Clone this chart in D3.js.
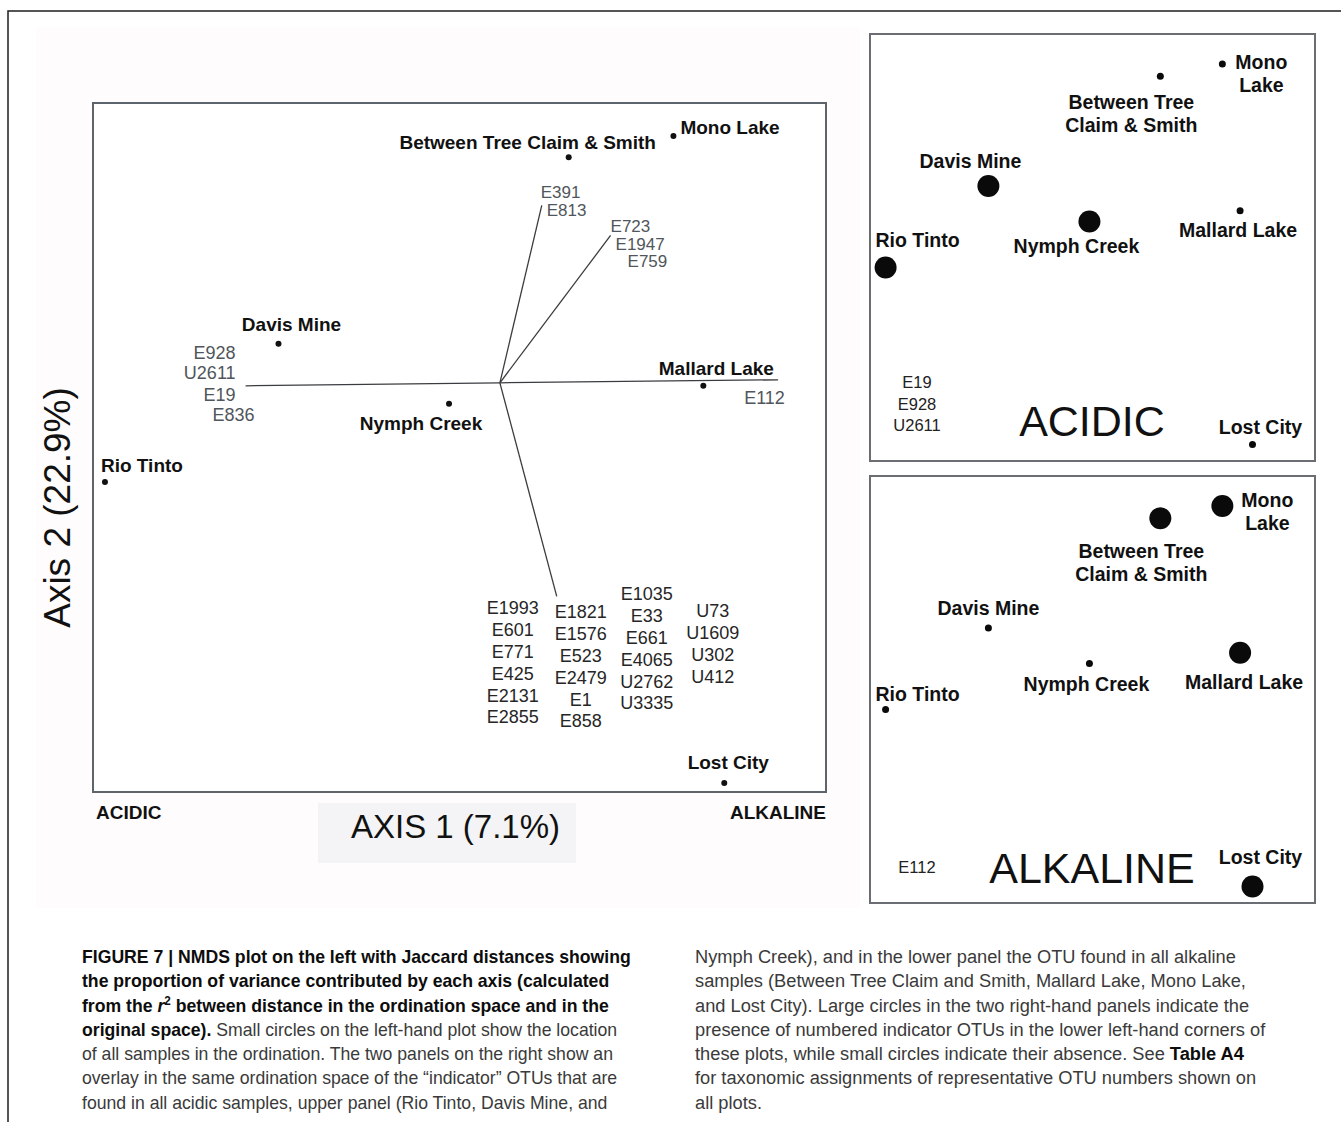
<!DOCTYPE html>
<html>
<head>
<meta charset="utf-8">
<script src="https://cdn.jsdelivr.net/npm/d3@7"></script>
<style>
  html, body { margin: 0; padding: 0; background: #fff; }
  svg { display: block; font-family: "Liberation Sans", Arial, Helvetica, sans-serif; }
</style>
</head>
<body>
<svg id="fig" width="1341" height="1122"></svg>
<script>
// ---- NMDS site scores (Jaccard) ----
const sites = ["Rio Tinto", "Davis Mine", "Nymph Creek", "Between Tree Claim & Smith",
               "Mono Lake", "Mallard Lake", "Lost City"];
const siteAxis1 = [-1.32, -0.74, -0.17, 0.23, 0.58, 0.68, 0.75];
const siteAxis2 = [-0.33, 0.13, -0.07, 0.75, 0.82, -0.01, -1.33];

// presence (1) / absence (0) of the indicator OTUs at each site
const acidicPresence   = [1, 1, 1, 0, 0, 0, 0];
const alkalinePresence = [0, 0, 0, 1, 1, 1, 1];
const acidicIndicators   = ["E19", "E928", "U2611"];
const alkalineIndicators = ["E112"];

// ---- fitted OTU vectors ----
const vectorAxis1 = [0.14, 0.37, -0.85, 0.93, 0.19];
const vectorAxis2 = [0.59, 0.49, -0.01, 0.01, -0.71];
const vectorOTUs = [
  ["E391", "E813"],
  ["E723", "E1947", "E759"],
  ["E928", "U2611", "E19", "E836"],
  ["E112"],
  [["E1993", "E601", "E771", "E425", "E2131", "E2855"],
   ["E1821", "E1576", "E523", "E2479", "E1", "E858"],
   ["E1035", "E33", "E661", "E4065", "U2762", "U3335"],
   ["U73", "U1609", "U302", "U412"]]
];

const axisTitles = ["AXIS 1 (7.1%)", "Axis 2 (22.9%)"];
const gradientLabels = ["ACIDIC", "ALKALINE"];

const captionLeft = [
  [["b", "FIGURE 7 | NMDS plot on the left with Jaccard distances showing"]],
  [["b", "the proportion of variance contributed by each axis (calculated"]],
  [["b", "from the "], ["bi", "r"], ["bsup", "2"], ["bdown", " between distance in the ordination space and in the"]],
  [["b", "original space)."], ["n", " Small circles on the left-hand plot show the location"]],
  [["n", "of all samples in the ordination. The two panels on the right show an"]],
  [["n", "overlay in the same ordination space of the \u201cindicator\u201d OTUs that are"]],
  [["n", "found in all acidic samples, upper panel (Rio Tinto, Davis Mine, and"]]
];
const captionRight = [
  [["n", "Nymph Creek), and in the lower panel the OTU found in all alkaline"]],
  [["n", "samples (Between Tree Claim and Smith, Mallard Lake, Mono Lake,"]],
  [["n", "and Lost City). Large circles in the two right-hand panels indicate the"]],
  [["n", "presence of numbered indicator OTUs in the lower left-hand corners of"]],
  [["n", "these plots, while small circles indicate their absence. See "], ["b", "Table A4"]],
  [["n", "for taxonomic assignments of representative OTU numbers shown on"]],
  [["n", "all plots."]]
];

const svg = d3.select("#fig");
const siteData = sites.map((s, i) => ({ name: s, a1: siteAxis1[i], a2: siteAxis2[i], i }));

svg.append("rect").attr("width", 1341).attr("height", 1122).attr("fill", "#fff");
svg.append("rect").attr("x", 36).attr("y", 27).attr("width", 824).attr("height", 881).attr("fill", "#fefcfc");

// outer figure rule
svg.append("path").attr("d", "M8,1122V11H1341").attr("fill", "none")
  .attr("stroke", "#1e1e1e").attr("stroke-width", 1.5);

// ================= main ordination =================
const x = d3.scaleLinear().domain([-1.36, 1.09]).range([93, 826]);
const y = d3.scaleLinear().domain([-1.36, 0.93]).range([792, 103]);

const main = svg.append("g");
main.append("rect").attr("x", x.range()[0]).attr("y", y.range()[1])
  .attr("width", x.range()[1] - x.range()[0]).attr("height", y.range()[0] - y.range()[1])
  .attr("fill", "#fff").attr("stroke", "#5d646b").attr("stroke-width", 2);

// vectors from the origin
main.append("g").selectAll("line").data(vectorAxis1).join("line")
  .attr("x1", x(0)).attr("y1", y(0))
  .attr("x2", (d, i) => x(d)).attr("y2", (d, i) => y(vectorAxis2[i]))
  .attr("stroke", "#3a3d40").attr("stroke-width", 1.3);

const gray = "#50565b";
function otuText(g, txt, px, py, anchor, color, size) {
  g.append("text").attr("x", px).attr("y", py).attr("text-anchor", anchor)
    .attr("font-size", size || 18).attr("fill", color).text(txt);
}
const vl = main.append("g");
// E391 / E813
{
  const ex = x(vectorAxis1[0]), ey = y(vectorAxis2[0]);
  otuText(vl, vectorOTUs[0][0], ex - 1, ey - 7, "start", gray, 17);
  otuText(vl, vectorOTUs[0][1], ex + 5, ey + 11, "start", gray, 17);
}
// E723 / E1947 / E759
{
  const ex = x(vectorAxis1[1]), ey = y(vectorAxis2[1]);
  const dx = [0, 5, 17];
  vectorOTUs[1].forEach((t, k) => otuText(vl, t, ex + dx[k], ey - 3 + k * 17.5, "start", gray, 17));
}
// acidic indicators, left
{
  const ex = x(vectorAxis1[2]), ey = y(vectorAxis2[2]);
  const dx = [-10, -10, -10, 9];
  const dy = [-27, -7, 15, 35];
  vectorOTUs[2].forEach((t, k) => otuText(vl, t, ex + dx[k], ey + dy[k], "end", gray));
}
// E112
{
  const ex = x(vectorAxis1[3]), ey = y(vectorAxis2[3]);
  otuText(vl, vectorOTUs[3][0], ex - 34, ey + 24, "start", gray);
}
// cluster at the end of the downward vector
{
  const ex = x(vectorAxis1[4]), ey = y(vectorAxis2[4]);
  const colDx = [-44, 24, 90, 156];
  const colDy = [18, 22, 4, 21];
  vectorOTUs[4].forEach((col, c) => {
    col.forEach((t, k) => otuText(vl, t, ex + colDx[c], ey + colDy[c] + k * 21.8, "middle", "#262626"));
  });
}

// sample points
const mainLabel = {
  "Rio Tinto": [-4, -10, "start"],
  "Davis Mine": [13, -13, "middle"],
  "Nymph Creek": [-28, 26, "middle"],
  "Between Tree Claim & Smith": [-41, -8, "middle"],
  "Mono Lake": [7, -2, "start"],
  "Mallard Lake": [13, -11, "middle"],
  "Lost City": [4, -14, "middle"]
};
main.append("g").selectAll("circle").data(siteData).join("circle")
  .attr("cx", d => x(d.a1)).attr("cy", d => y(d.a2)).attr("r", 3).attr("fill", "#111");
main.append("g").selectAll("text").data(siteData).join("text")
  .attr("x", d => x(d.a1) + mainLabel[d.name][0])
  .attr("y", d => y(d.a2) + mainLabel[d.name][1])
  .attr("text-anchor", d => mainLabel[d.name][2])
  .attr("font-size", 19).attr("font-weight", "bold").attr("fill", "#111")
  .text(d => d.name);

// axis titles and gradient labels
main.append("rect").attr("x", 318).attr("y", 803).attr("width", 258).attr("height", 60).attr("fill", "#f4f4f6");
main.append("text").attr("x", (x.range()[0] + x.range()[1]) / 2 - 4).attr("y", 838)
  .attr("text-anchor", "middle").attr("font-size", 33).attr("fill", "#111").text(axisTitles[0]);
main.append("text").attr("transform", `translate(70,${(y.range()[0] + y.range()[1]) / 2 + 60}) rotate(-90)`)
  .attr("text-anchor", "middle").attr("font-size", 37).attr("fill", "#111").text(axisTitles[1]);
main.append("text").attr("x", 96).attr("y", 819).attr("font-size", 19).attr("font-weight", "bold")
  .attr("fill", "#111").text(gradientLabels[0]);
main.append("text").attr("x", x.range()[1]).attr("y", 819).attr("text-anchor", "end")
  .attr("font-size", 19).attr("font-weight", "bold").attr("fill", "#111").text(gradientLabels[1]);

// ================= indicator overlay panels =================
const px = d3.scaleLinear().domain([-1.408, 1.097]);
const py = d3.scaleLinear().domain([-1.412, 0.989]);

function panel(top, presence, indicators, title, labels) {
  const xs = px.copy().range([870, 1314]);
  const ys = py.copy().range([top + 425, top]);
  const g = svg.append("g");
  g.append("rect").attr("x", 870).attr("y", top).attr("width", 445).attr("height", 427)
    .attr("fill", "#fff").attr("stroke", "#6a6e72").attr("stroke-width", 2);
  g.append("g").selectAll("circle").data(siteData).join("circle")
    .attr("cx", d => xs(d.a1)).attr("cy", d => ys(d.a2))
    .attr("r", d => presence[d.i] ? 11 : 3.5).attr("fill", "#0a0a0a");
  siteData.forEach(d => {
    const [dx, dy, lines] = labels[d.name];
    const t = g.append("text").attr("x", xs(d.a1) + dx).attr("y", ys(d.a2) + dy)
      .attr("text-anchor", "middle")
      .attr("font-size", 19.5).attr("font-weight", "bold").attr("fill", "#111");
    lines.forEach((ln, k) => t.append("tspan").attr("x", xs(d.a1) + dx).attr("dy", k ? 23 : 0).text(ln));
  });
  indicators.forEach((t, k) => {
    g.append("text").attr("x", 917).attr("y", top + (indicators.length > 1 ? 354 : 397) + k * 21.5)
      .attr("text-anchor", "middle").attr("font-size", 16.5).attr("fill", "#222").text(t);
  });
  g.append("text").attr("x", 1092).attr("y", top + (indicators.length > 1 ? 402 : 407))
    .attr("text-anchor", "middle").attr("font-size", 43).attr("fill", "#111").text(title);
}

panel(34, acidicPresence, acidicIndicators, "ACIDIC", {
  "Rio Tinto": [32, -20, ["Rio Tinto"]],
  "Davis Mine": [-18, -18, ["Davis Mine"]],
  "Nymph Creek": [-13, 32, ["Nymph Creek"]],
  "Between Tree Claim & Smith": [-29, 33, ["Between Tree", "Claim & Smith"]],
  "Mono Lake": [39, 5, ["Mono", "Lake"]],
  "Mallard Lake": [-2, 26, ["Mallard Lake"]],
  "Lost City": [8, -10, ["Lost City"]]
});
panel(476, alkalinePresence, alkalineIndicators, "ALKALINE", {
  "Rio Tinto": [32, -8, ["Rio Tinto"]],
  "Davis Mine": [0, -13, ["Davis Mine"]],
  "Nymph Creek": [-3, 28, ["Nymph Creek"]],
  "Between Tree Claim & Smith": [-19, 40, ["Between Tree", "Claim & Smith"]],
  "Mono Lake": [45, 1, ["Mono", "Lake"]],
  "Mallard Lake": [4, 36, ["Mallard Lake"]],
  "Lost City": [8, -22, ["Lost City"]]
});

// ================= caption =================
function captionColumn(lines) {
  const g = svg.append("g");
  lines.forEach((parts, k) => {
    const t = g.append("text").attr("x", 0).attr("y", 963 + k * 24.3).attr("font-size", 18);
    parts.forEach(([style, str]) => {
      const s = t.append("tspan").text(str);
      if (style[0] === "b") s.attr("font-weight", "bold").attr("fill", "#0d0d0d");
      else s.attr("fill", "#3a3a3a");
      if (style === "bi") s.attr("font-style", "italic");
      if (style === "bsup") s.attr("font-size", 12).attr("dy", -7);
      if (style === "bdown") s.attr("dy", 7);
    });
  });
  return g;
}
const capL = captionColumn(captionLeft);
const capR = captionColumn(captionRight);
const firstLen = capL.select("text").node().getComputedTextLength();
const squeeze = 549 / firstLen;
capL.attr("transform", `translate(82,0) scale(${squeeze},1)`);
capR.attr("transform", `translate(695,0) scale(${squeeze * 1.035},1)`);
</script>
</body>
</html>
